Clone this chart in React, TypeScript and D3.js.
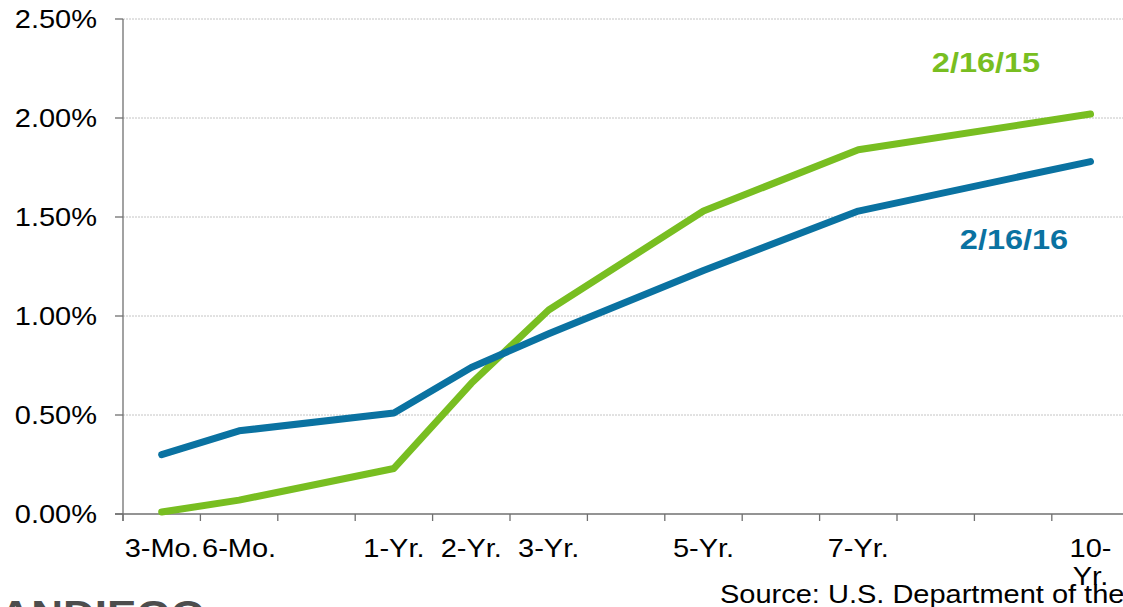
import * as d3 from 'd3'

const categories = ['3-Mo.', '6-Mo.', '', '1-Yr.', '2-Yr.', '3-Yr.', '', '5-Yr.', '', '7-Yr.', '', '', '10-Yr.']
const yields2015: (number | null)[] = [0.01, 0.07, null, 0.23, 0.66, 1.03, null, 1.53, null, 1.84, null, null, 2.02]
const yields2016: (number | null)[] = [0.3, 0.42, null, 0.51, 0.74, 0.91, null, 1.23, null, 1.53, null, null, 1.78]
const yTicks = [0, 0.5, 1, 1.5, 2, 2.5]

const seriesNames = ['2/16/15', '2/16/16']
const seriesColors = ['#78be21', '#0a72a1']

const W = 1123
const H = 607
const FONT = '"Liberation Sans", Arial, sans-serif'
const SX = 1.16 // text in the picture is stretched a little wide

function wrap(label: string) {
  if (label.length > 5 && label.includes('-')) {
    const i = label.indexOf('-') + 1
    return [label.slice(0, i), label.slice(i)]
  }
  return [label]
}

export default function App() {
  const x = d3
    .scaleBand<number>()
    .domain(d3.range(categories.length))
    .range([123, 123 + 77.4 * categories.length])
    .paddingInner(0)
    .paddingOuter(0)

  const y = d3.scaleLinear().domain([0, 2.5]).range([514, 19])

  const cx = (i: number) => (x(i) || 0) + x.bandwidth() / 2

  const line = d3
    .line<[number, number]>()
    .x((d) => cx(d[0]))
    .y((d) => y(d[1]))

  const toPoints = (vals: (number | null)[]) =>
    vals.map((v, i) => [i, v] as [number, number | null]).filter((d) => d[1] !== null) as [number, number][]

  const series = [yields2015, yields2016]
  const [x0, x1] = x.range()
  const boundaries = d3.range(categories.length + 1).map((i) => x0 + i * x.step())

  const Txt = (p: {
    x: number
    y: number
    size: number
    anchor?: string
    fill?: string
    weight?: string | number
    children: any
    wordSpacing?: string
  }) => (
    <text
      transform={`translate(${p.x},${p.y}) scale(${SX},1)`}
      fontSize={p.size}
      fontFamily={FONT}
      textAnchor={p.anchor || 'start'}
      fill={p.fill || '#000'}
      fontWeight={p.weight || 'normal'}
      style={p.wordSpacing ? { wordSpacing: p.wordSpacing } : undefined}
    >
      {p.children}
    </text>
  )

  return (
    <div style={{ position: 'absolute', left: 0, top: 0 }}>
      <svg width={W} height={H} viewBox={`0 0 ${W} ${H}`} style={{ display: 'block', background: '#fff' }}>
        {/* gridlines */}
        {yTicks
          .filter((t) => t > 0)
          .map((t) => (
            <line
              key={'g' + t}
              x1={x0}
              x2={x1}
              y1={y(t)}
              y2={y(t)}
              stroke="#c4c4c4"
              strokeWidth={1}
              strokeDasharray="2,1"
            />
          ))}

        {/* y axis */}
        <line x1={x0} x2={x0} y1={y(2.5)} y2={y(0) + 7} stroke="#707070" strokeWidth={1.3} />
        {yTicks.map((t) => (
          <g key={'y' + t}>
            <line x1={x0 - 8} x2={x0} y1={y(t)} y2={y(t)} stroke="#707070" strokeWidth={1.3} />
            <Txt x={97} y={y(t) + 9} size={25} anchor="end">
              {d3.format('.2%')(t / 100)}
            </Txt>
          </g>
        ))}

        {/* x axis */}
        <line x1={x0 - 8} x2={x1} y1={y(0)} y2={y(0)} stroke="#707070" strokeWidth={1.3} />
        {boundaries.map((b, i) => (
          <line key={'xt' + i} x1={b} x2={b} y1={y(0)} y2={y(0) + 7} stroke="#707070" strokeWidth={1.3} />
        ))}
        {categories.map((c, i) =>
          wrap(c).map((part, j) => (
            <Txt key={'xl' + i + '-' + j} x={cx(i)} y={557 + j * 28} size={25} anchor="middle">
              {part}
            </Txt>
          ))
        )}

        {/* lines */}
        {series.map((vals, k) => (
          <path
            key={'s' + k}
            d={line(toPoints(vals)) || ''}
            fill="none"
            stroke={seriesColors[k]}
            strokeWidth={7}
            strokeLinecap="round"
            strokeLinejoin="round"
          />
        ))}

        {/* series labels */}
        <Txt x={986} y={72} size={28} anchor="middle" fill={seriesColors[0]} weight="bold">
          {seriesNames[0]}
        </Txt>
        <Txt x={1014} y={249} size={28} anchor="middle" fill={seriesColors[1]} weight="bold">
          {seriesNames[1]}
        </Txt>

        {/* source + logo */}
        <Txt x={720} y={603} size={25}>
          Source: U.S. Department of the
        </Txt>
        <Txt x={-30} y={628} size={38} fill="#4d4d4d" weight="bold" wordSpacing="-0.28em">
          SAN DIEGO
        </Txt>
      </svg>
    </div>
  )
}
